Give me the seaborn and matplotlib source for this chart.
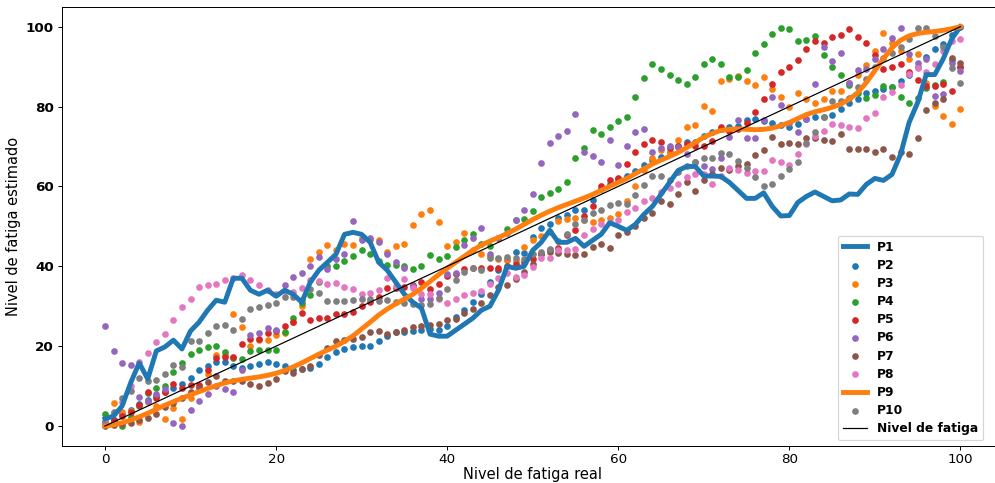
import matplotlib
matplotlib.use("Agg")
import matplotlib.pyplot as plt
import seaborn as sns


# =====================================
# DATA
# =====================================

nivel_real = list(range(0, 101))

p1 = [1.8, 2.5, 5, 10.8, 15.8, 11.8, 18.8, 19.8, 21.5, 19.3,
      23.8, 26, 29, 31.5, 31, 37, 37, 34, 33, 34,
      32.5, 34, 33, 31, 36, 39, 41, 43, 48, 48.5,
      48, 46, 41, 39, 36, 33, 31, 29.5, 23, 22.5,
      22.5, 24, 25.5, 27, 29, 30, 34, 40, 39.5, 40,
      44, 46, 49, 46, 46, 47, 45, 46.5, 48, 50.9,
      50, 49, 50.5, 53, 55, 58, 61, 64, 65, 65,
      62.6, 62.6, 62.5, 61, 59, 57, 57, 58.4, 55, 52.6,
      52.7, 56, 57.5, 58.6, 57.5, 56.4, 56.6, 58.1, 58, 60.5,
      62, 61.5, 63, 68, 76, 81, 88, 88, 92, 97, 100]

p2 = [1, 1.5, 3, 4, 5.5, 6.5, 7.5, 8.5, 9.5, 10.5,
      12, 14, 15, 16, 16, 15, 14.5, 15, 15.5, 16,
      15.5, 15, 14, 14.3, 14.6, 15.5, 17.3, 18.5, 19.3, 19.8,
      20.1, 20.1, 21.2, 22.5, 23.6, 23.6, 23.7, 24, 24.2, 24.1,
      25, 27.3, 29, 31, 33, 36, 39, 41.5, 43.6, 43.4,
      47.4, 49.6, 50.7, 52.1, 52.9, 54, 54.1, 56.5, 59.4, 60.6,
      61.9, 62.6, 63.8, 65.3, 66.7, 67.3, 68.5, 70, 71.2, 71.2,
      72.5, 73.5, 74.3, 75, 75.2, 76.6, 77, 76.5, 76, 75.5,
      75, 75.7, 76.8, 77.3, 77.3, 77.8, 79.5, 81, 82, 83.5,
      84, 84.3, 85, 86.5, 88, 90, 92.4, 94.5, 95.7, 98, 100]

p3 = [1, 5.8, 3.5, 3.7, 1, 6, 5, 1.7, 4.5, 1.7,
      7, 10, 13, 17.7, 17.7, 28, 24.8, 20, 21.5, 21.5,
      22.7, 23.4, 26, 30, 41.8, 43.6, 45.4, 44, 45.6, 45.4,
      47, 46.5, 46.5, 43.7, 45, 45.5, 50.4, 53.2, 54, 51.2,
      45.1, 46, 48.3, 44, 43, 42.5, 41.8, 41.5, 41.4, 44.9,
      46.6, 47.5, 48.7, 51.4, 51.8, 52, 51.5, 51.1, 51.5, 52,
      53, 56.4, 60, 64, 67, 69, 68.3, 71.6, 75, 75.5,
      80.2, 79, 86.5, 87, 87.7, 86.5, 85.5, 87.3, 84.5, 82.5,
      80, 83.4, 82, 81, 82, 84, 84, 86, 88, 90.4,
      94, 98.5, 96, 94, 92, 93.2, 86, 80.2, 77.7, 75.7, 79.5]

p4 = [3, 1, 0, 2.3, 5, 8.3, 9.5, 10, 13.5, 15.8,
      18, 19, 19.8, 20.1, 18.5, 17, 16.8, 18.8, 19, 19,
      19, 23.5, 27, 30.8, 32.8, 36, 40, 40, 41.4, 42.5,
      44, 43, 41.3, 40.3, 40.3, 40, 39.3, 40, 42.9, 41.8,
      42.6, 44.9, 46.5, 48, 45.5, 45, 47, 49.3, 51.6, 51.8,
      53.8, 57.3, 58.4, 59.4, 61.1, 67, 69.7, 74.1, 73.1, 75,
      76.3, 77.3, 82.5, 87.2, 90.7, 89.5, 88, 86.7, 85.7, 87.5,
      90.7, 92, 90.7, 87.3, 87.5, 89.2, 93.5, 95.7, 98.2, 99.7,
      99.5, 96.3, 96.7, 97.7, 93, 90, 88, 85.5, 83.5, 82.2,
      82.8, 85.2, 84.8, 82.4, 80.9, 82.2, 84.6, 85.5, 86.2, 91.6, 89.8]

p5 = [1, 1.5, 2.5, 3.6, 5.3, 8.4, 7, 8.5, 10.4, 9.6,
      10.3, 10.3, 14, 17, 17.3, 17.3, 20.6, 21.8, 21.8, 23.3,
      23.8, 25, 26.1, 28.3, 26.6, 27, 27, 28, 28, 28.6,
      30, 31, 32.4, 34.6, 34.5, 34.9, 35.3, 36, 34.4, 35.6,
      37.5, 38, 39.3, 39.6, 39.6, 39.6, 39.6, 40, 40.5, 41,
      41.9, 43, 44.1, 44.7, 47.9, 49.1, 52.6, 55.1, 60.1, 61.6,
      62.2, 65.6, 68.6, 70.6, 71.6, 71, 69.5, 70, 70.5, 70.2,
      70, 71.4, 74.8, 74, 74.5, 76, 78.7, 81.9, 85.6, 88.7,
      90, 91.7, 94.5, 96.5, 95.8, 97.5, 98, 99.4, 97.3, 95.8,
      92.8, 89.5, 89.8, 90.7, 88.7, 86.7, 85.2, 85.2, 85.6, 84, 90]

p6 = [25, 18.8, 15.9, 15.2, 7.3, 6.3, 8, 9.2, 0.7, 0,
      4, 6.3, 8, 10, 9.3, 8.4, 14, 22.8, 23.4, 24.5,
      24, 35.2, 37.2, 38.2, 40, 42.4, 39.2, 41.8, 43, 51.4,
      46.6, 47, 46.2, 43.1, 41, 39.6, 35, 31.8, 31.7, 33.2,
      38, 38.4, 45.4, 47, 49.6, 43.1, 47.1, 48.4, 51.6, 54.1,
      58.1, 65.9, 70.9, 72.6, 73.9, 78.1, 68.6, 67.7, 66, 71.7,
      65.4, 70.2, 73.7, 74.5, 68.7, 69.5, 70, 69.9, 68, 66,
      65, 64.3, 67.2, 72.3, 76.6, 72.2, 72, 76.6, 82.3, 80.5,
      76, 73.5, 77, 85.7, 94.8, 91.5, 93.4, 86, 89.2, 89.5,
      92, 94.5, 97.2, 99.7, 93.2, 91, 92, 82.7, 83.2, 91, 89]

p7 = [0, 0.3, 0.5, 0.8, 1.5, 2, 3, 4.8, 5.8, 7,
      8.5, 9.5, 11, 12.5, 11.3, 11.3, 11.3, 10.5, 10, 10.8,
      11.8, 13.8, 13.3, 14.3, 15, 17.8, 19.6, 21.3, 21.5, 21.8,
      22.3, 23.6, 23.8, 23.1, 23.5, 24, 24.8, 25, 25.3, 25.5,
      26.6, 26.9, 28.4, 29.2, 30.9, 32.8, 34.8, 35.3, 36.8, 38.5,
      40.5, 43, 43.5, 43.4, 43, 42.8, 43.1, 44.8, 45.5, 44.6,
      47.8, 48.6, 50, 52, 53.4, 56.4, 55.6, 58.1, 61.2, 58.9,
      61.5, 63.2, 64.5, 64.2, 65, 65.6, 67.9, 69.1, 72.4, 70.7,
      70.9, 70.7, 72.2, 72.2, 71.5, 71.4, 73, 69.4, 69.4, 69.4,
      68.7, 69.4, 67.4, 68.6, 68.2, 72.2, 79.2, 80.8, 81.8, 92.2, 91]

p8 = [1, 3.3, 6, 10, 16, 18.3, 21, 23.1, 26.6, 29.8,
      31.8, 34.7, 35.3, 35.5, 36.5, 37, 37.8, 36.6, 35.2, 34,
      33, 33.7, 33.5, 34.6, 36.5, 36.3, 35.5, 35.9, 34.7, 34.3,
      33, 33.4, 34, 37, 35, 36.8, 34.5, 33, 33, 31.8,
      30.8, 31.9, 32.8, 33.3, 33.8, 35.5, 37, 38.4, 37.4, 37.8,
      39.7, 42.2, 42.2, 44, 44, 44.3, 47.8, 49.3, 50.5, 51,
      51.6, 53.6, 54.6, 56.4, 57.2, 58.5, 59.5, 60.6, 62.4, 63,
      63.1, 60.7, 62.5, 64.7, 64.1, 63.4, 63.9, 63.9, 66.6, 66.2,
      65.4, 68.1, 70.5, 72.5, 73.9, 75.6, 75.4, 75, 74.7, 77.2,
      78.5, 82.5, 83.7, 85.5, 88.2, 89.7, 88.6, 90.7, 94, 96.5, 97]

p9 = [0, 0.3, 0.8, 1.5, 2.3, 3.2, 4.2, 5.2, 6.1, 7,
      7.8, 8.6, 9.4, 10.1, 10.8, 11.3, 11.7, 12, 12.3, 12.7,
      13.2, 13.9, 14.8, 15.8, 16.9, 18, 19, 20, 21.2, 22.6,
      24.3, 26, 27.8, 29.3, 30.6, 31.8, 33, 34.5, 36.2, 37.9,
      39.5, 41, 42.5, 44, 45.3, 46.3, 47.2, 48.2, 49.3, 50.5,
      51.7, 52.8, 53.8, 54.7, 55.5, 56.3, 57.1, 58, 59, 60,
      61, 62, 63.2, 64.4, 65.6, 66.6, 67.5, 68.5, 69.7, 71,
      72.3, 73.3, 74, 74.3, 74.4, 74.3, 74.2, 74.3, 74.6, 75.2,
      76, 77, 78, 78.7, 79.2, 79.8, 80.6, 81.8, 83.5, 86,
      89, 92, 94.7, 96.6, 97.7, 98.3, 98.6, 98.8, 99.1, 99.5, 100]

p10 = [0.5, 3.5, 7, 8.8, 12, 11.3, 11.5, 13, 15.3, 14.8,
       21.3, 21.3, 23.3, 25, 25.3, 24, 26.8, 29.3, 29.7, 30.4,
       30.9, 32.4, 32.2, 31.6, 34.4, 33.3, 31.3, 31.3, 31.3, 31.5,
       31.9, 31.8, 31.3, 31.5, 31, 30.8, 30.5, 30.3, 30.5, 32.1,
       34.3, 36.5, 38.6, 39.6, 39.1, 42.1, 42.1, 42.4, 42, 41.9,
       43, 43.5, 44.4, 46.4, 48, 50.6, 51.6, 53.4, 54.1, 55.4,
       55.8, 55.6, 57.9, 60.4, 62.6, 62.6, 61.6, 63.5, 65, 66,
       67.2, 67.1, 68.4, 68.2, 66.4, 64.5, 62.4, 60.1, 60.6, 62.6,
       64.4, 66.2, 70.9, 73.7, 77.5, 81.3, 81.3, 82.2, 85, 87,
       90, 92.2, 93.5, 94.8, 97, 99.7, 99.7, 97.7, 95, 89.7, 86]

scatter_series = [
    ("P2", p2, "#1f77b4"),
    ("P3", p3, "#ff7f0e"),
    ("P4", p4, "#2ca02c"),
    ("P5", p5, "#d62728"),
    ("P6", p6, "#9467bd"),
    ("P7", p7, "#8c564b"),
    ("P8", p8, "#e377c2"),
]


# =====================================
# PLOT
# =====================================

DPI = 88

fig = plt.figure(figsize=(995 / DPI, 483 / DPI), dpi=DPI)
ax = fig.add_axes([62.2 / 995, 37.0 / 483, 941.0 / 995, 439.3 / 483])

sns.lineplot(x=nivel_real, y=p1, color="#1f77b4", linewidth=4,
             label="P1", ax=ax)

for name, values, colour in scatter_series:
    sns.scatterplot(x=nivel_real, y=values, color=colour, s=30,
                    linewidth=0, label=name, ax=ax)

sns.lineplot(x=nivel_real, y=p9, color="#ff7f0e", linewidth=4,
             label="P9", ax=ax)

sns.scatterplot(x=nivel_real, y=p10, color="#7f7f7f", s=30,
                linewidth=0, label="P10", ax=ax)

sns.lineplot(x=nivel_real, y=nivel_real, color="black", linewidth=1,
             label="Nivel de fatiga", ax=ax)

ax.set_xlim(-5, 105)
ax.set_ylim(-5, 105)
ax.set_xticks([0, 20, 40, 60, 80, 100])
ax.set_yticks([0, 20, 40, 60, 80, 100])

ax.tick_params(axis="x", labelsize=11, pad=2)
ax.tick_params(axis="y", labelsize=11)
for lbl in ax.get_yticklabels():
    lbl.set_fontweight("bold")

ax.set_xlabel("Nivel de fatiga real", fontsize=12, labelpad=1)
ax.set_ylabel("Nivel de fatiga estimado", fontsize=12)

ax.legend(loc="lower right", bbox_to_anchor=(0.9785, 0.0137),
          borderaxespad=0, labelspacing=0.42,
          prop={"weight": "bold", "size": 10})

fig.savefig("out.png", dpi=DPI)
plt.close(fig)
